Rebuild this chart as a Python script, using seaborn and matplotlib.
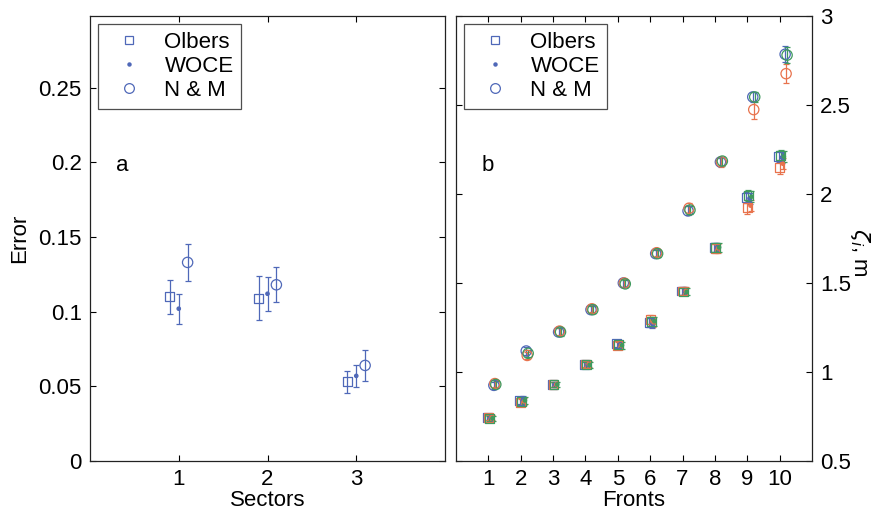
import numpy as np
import pandas as pd
import matplotlib
matplotlib.use("Agg")
import matplotlib.pyplot as plt
from matplotlib.lines import Line2D
import seaborn as sns

# --- panel a: error per sector ---
sectors = [1, 2, 3]
olbers_a = [0.110, 0.109, 0.053]
olbers_a_sd = [0.0115, 0.0146, 0.0072]
woce_a = [0.102, 0.112, 0.057]
woce_a_sd = [0.0101, 0.0115, 0.0072]
nm_a = [0.133, 0.118, 0.064]
nm_a_sd = [0.0125, 0.0118, 0.0105]

# --- panel b: zeta_i per front, three colours (blue, orange, green) ---
fronts = [1, 2, 3, 4, 5, 6, 7, 8, 9, 10]
olb_blue = [0.745, 0.84, 0.93, 1.04, 1.16, 1.28, 1.455, 1.70, 1.98, 2.21]
olb_orange = [0.745, 0.83, 0.93, 1.045, 1.15, 1.295, 1.455, 1.695, 1.925, 2.15]
olb_green = [0.74, 0.835, 0.93, 1.04, 1.155, 1.285, 1.45, 1.70, 1.99, 2.215]
woce_blue = [0.745, 0.845, 0.93, 1.04, 1.155, 1.27, 1.455, 1.70, 1.975, 2.205]
woce_orange = [0.745, 0.835, 0.93, 1.045, 1.15, 1.28, 1.455, 1.695, 1.935, 2.17]
woce_green = [0.74, 0.84, 0.93, 1.04, 1.15, 1.285, 1.45, 1.70, 1.985, 2.21]
nm_blue = [0.925, 1.118, 1.225, 1.35, 1.50, 1.665, 1.905, 2.18, 2.545, 2.785]
nm_orange = [0.935, 1.093, 1.23, 1.355, 1.50, 1.67, 1.92, 2.18, 2.474, 2.676]
nm_green = [0.93, 1.105, 1.225, 1.35, 1.495, 1.665, 1.91, 2.185, 2.545, 2.78]

sq_sd = [0.015, 0.02, 0.015, 0.015, 0.02, 0.025, 0.02, 0.025, 0.03, 0.03]
sq_sd_orange = [0.015, 0.02, 0.015, 0.015, 0.02, 0.025, 0.02, 0.025, 0.04, 0.04]
dot_sd = [0.015, 0.02, 0.015, 0.015, 0.02, 0.025, 0.02, 0.025, 0.03, 0.03]
circ_sd = [0.02, 0.02, 0.02, 0.02, 0.02, 0.02, 0.025, 0.025, 0.03, 0.045]
circ_sd_orange = [0.02, 0.02, 0.02, 0.02, 0.02, 0.02, 0.03, 0.03, 0.05, 0.055]

sns.set_style("ticks")
plt.rcParams['font.family'] = ['Liberation Sans', 'DejaVu Sans']
plt.rcParams['mathtext.fontset'] = 'dejavusans'
for key in ['text.color', 'axes.labelcolor', 'xtick.color', 'ytick.color']:
    plt.rcParams[key] = 'black'
FS = 16

blue = '#4f68b8'
palette = {'blue': '#4f68b8', 'orange': '#e8734d', 'green': '#3f9a5e'}
marker_map = {'Olbers': 's', 'WOCE': 'o', 'N & M': 'o'}
size_map = {'Olbers': 40, 'WOCE': 6, 'N & M': 55}


def draw(ax, df):
    # error bars first, then seaborn markers on top
    for _, r in df.iterrows():
        ax.errorbar(r['x'], r['y'], yerr=r['sd'], fmt='none',
                    ecolor=palette[r['colour']], elinewidth=0.9,
                    capsize=2.2, capthick=0.9, zorder=2)
    for method in ['Olbers', 'WOCE', 'N & M']:
        sub = df[df['method'] == method]
        sns.scatterplot(data=sub, x='x', y='y', hue='colour', palette=palette,
                        marker=marker_map[method], s=size_map[method],
                        linewidth=0.9, legend=False, ax=ax, zorder=3)
        coll = ax.collections[-1]
        fc = coll.get_facecolors()
        coll.set_edgecolors(fc.copy())
        if method != 'WOCE':
            fc[:, 3] = 0
        coll.set_facecolors(fc)


def style(ax):
    ax.tick_params(direction='in', length=4, width=0.8, labelsize=FS,
                   top=True, right=True, pad=6)
    for sp in ax.spines.values():
        sp.set_color('#222222')
        sp.set_linewidth(0.9)
    handles = [Line2D([], [], ls='none', marker='s', ms=6, mfc='none', mec=blue, mew=0.9),
               Line2D([], [], ls='none', marker='o', ms=2.2, mfc=blue, mec=blue),
               Line2D([], [], ls='none', marker='o', ms=7, mfc='none', mec=blue, mew=0.9)]
    leg = ax.legend(handles, ['Olbers', 'WOCE', 'N & M'], loc='upper left',
                    fontsize=FS, frameon=True, fancybox=False, borderpad=0.35,
                    labelspacing=0.15, handlelength=2.1, handletextpad=0.55,
                    borderaxespad=0.35)
    leg.get_frame().set_edgecolor('#222222')
    leg.get_frame().set_linewidth(0.9)


rows = []
for name, vals, sd, off in [('Olbers', olbers_a, olbers_a_sd, -0.1),
                            ('WOCE', woce_a, woce_a_sd, 0.0),
                            ('N & M', nm_a, nm_a_sd, 0.1)]:
    for s, v, e in zip(sectors, vals, sd):
        rows.append({'x': s + off, 'y': v, 'sd': e, 'method': name, 'colour': 'blue'})
df_a = pd.DataFrame(rows)

rows = []
series_b = [('Olbers', 'blue', olb_blue, sq_sd), ('Olbers', 'orange', olb_orange, sq_sd_orange),
            ('Olbers', 'green', olb_green, sq_sd),
            ('WOCE', 'blue', woce_blue, dot_sd), ('WOCE', 'orange', woce_orange, dot_sd),
            ('WOCE', 'green', woce_green, dot_sd),
            ('N & M', 'blue', nm_blue, circ_sd), ('N & M', 'orange', nm_orange, circ_sd_orange),
            ('N & M', 'green', nm_green, circ_sd)]
meth_off = {'Olbers': 0.0, 'WOCE': 0.1, 'N & M': 0.2}
col_off = {'blue': -0.03, 'orange': 0.0, 'green': 0.03}
for name, col, vals, sd in series_b:
    for f, v, e in zip(fronts, vals, sd):
        rows.append({'x': f + meth_off[name] + col_off[col], 'y': v, 'sd': e,
                     'method': name, 'colour': col})
df_b = pd.DataFrame(rows)

fig = plt.figure(figsize=(8.75, 5.13), dpi=100)
ax1 = fig.add_axes([90 / 875, 52 / 513, 355 / 875, 445 / 513])
ax2 = fig.add_axes([456 / 875, 52 / 513, 356 / 875, 445 / 513])

draw(ax1, df_a)
ax1.set_xlim(0, 4)
ax1.set_ylim(0, 0.298)
ax1.set_xticks(sectors)
ax1.set_yticks([0, 0.05, 0.1, 0.15, 0.2, 0.25])
ax1.set_yticklabels(['0', '0.05', '0.1', '0.15', '0.2', '0.25'])
ax1.set_xlabel('Sectors', fontsize=FS, labelpad=0)
ax1.set_ylabel('Error', fontsize=FS, labelpad=6)
ax1.text(0.09, 0.663, 'a', transform=ax1.transAxes, fontsize=FS, ha='center', va='center')
style(ax1)

order = ['blue', 'orange', 'green']
df_b['colour'] = pd.Categorical(df_b['colour'], categories=order, ordered=True)
df_b = df_b.sort_values('colour')
draw(ax2, df_b)
ax2.set_xlim(0, 11)
ax2.set_ylim(0.5, 3)
ax2.set_xticks(fronts)
ax2.set_yticks([0.5, 1, 1.5, 2, 2.5, 3])
ax2.set_yticklabels(['0.5', '1', '1.5', '2', '2.5', '3'])
ax2.yaxis.tick_right()
ax2.yaxis.set_label_position('right')
ax2.set_xlabel('Fronts', fontsize=FS, labelpad=0)
ax2.set_ylabel(r'$\zeta_i$, m', fontsize=FS, rotation=270, va='bottom')
ax2.yaxis.set_label_coords((848 - 456) / 356, 0.47)
ax2.text(0.09, 0.663, 'b', transform=ax2.transAxes, fontsize=FS, ha='center', va='center')
style(ax2)
ax2.tick_params(left=True, labelleft=False, labelright=True)

fig.savefig('out.png', dpi=100)
